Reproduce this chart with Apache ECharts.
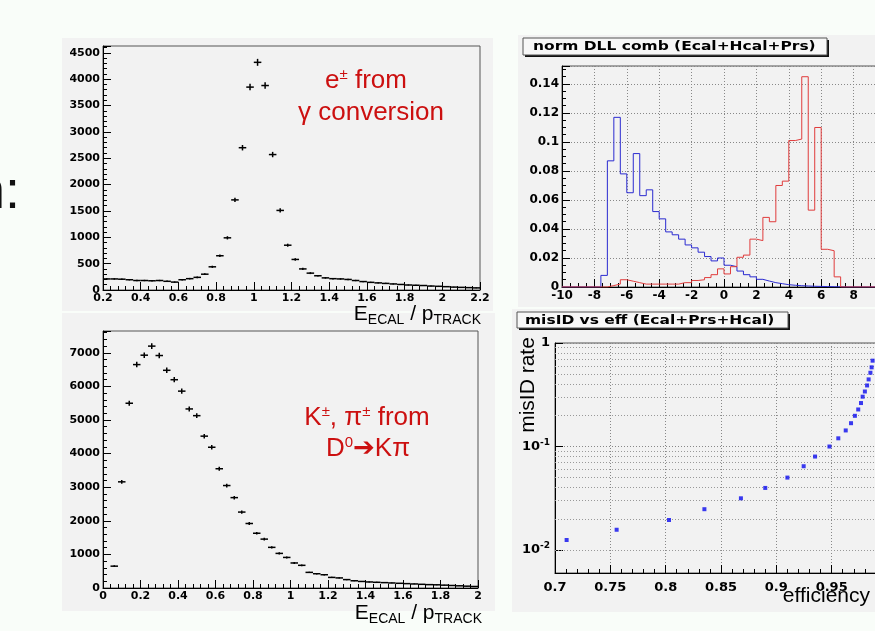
<!DOCTYPE html>
<html>
<head>
<meta charset="utf-8">
<script src="https://cdn.jsdelivr.net/npm/echarts@6/dist/echarts.min.js"></script>
<style>
html, body { margin: 0; padding: 0; background: #f9fdf9; }
#chart { width: 875px; height: 631px; }
</style>
</head>
<body>
<div id="chart"></div>
<script>
// E/p, e± from gamma conversion : 50 bins of 0.04 starting at 0.2
const eBinStart = 0.2;
const epBinW = 0.04;
const eCounts = [210, 210, 205, 195, 180, 180, 175, 180, 165, 150, 195, 215, 240, 300, 440, 650, 990, 1710, 2700, 3850,
  4320, 3880, 2570, 1510, 850, 580, 400, 320, 270, 230, 215, 210, 200, 180, 160, 145, 135, 125, 115, 105,
  95, 90, 85, 75, 70, 63, 55, 50, 45, 40];
const eErrors = [14, 14, 14, 14, 13, 13, 13, 13, 13, 12, 14, 15, 15, 17, 21, 25, 31, 41, 52, 62,
  66, 62, 51, 39, 29, 24, 20, 18, 16, 15, 15, 14, 14, 13, 13, 12, 12, 11, 11, 10,
  10, 9, 9, 9, 8, 8, 7, 7, 7, 6];

// E/p, K± pi± from D0 -> K pi : bins of 0.04 starting at 0.04
const kBinStart = 0.04;
const kCounts = [650, 3160, 5500, 6650, 6930, 7200, 6920, 6480, 6200, 5860, 5330, 5130, 4520, 4190, 3550, 3050, 2690, 2260, 1920, 1630,
  1455, 1210, 1030, 910, 745, 675, 465, 425, 395, 315, 300, 250, 215, 195, 180, 170, 160, 150, 140, 130,
  120, 110, 100, 95, 85, 75, 65, 55, 45];
const kErrors = [25, 56, 74, 82, 83, 85, 83, 80, 79, 77, 73, 72, 67, 65, 60, 55, 52, 48, 44, 40,
  38, 35, 32, 30, 27, 26, 22, 21, 20, 18, 17, 16, 15, 14, 13, 13, 13, 12, 12, 11,
  11, 10, 10, 10, 9, 9, 8, 7, 7];

// norm DLL comb : 50 bins of 0.4 from -10
const dllBinStart = -10;
const dllBinW = 0.4;
const dllBlue = [0, 0, 0, 0, 0, 0, 0.008, 0.087, 0.117, 0.078, 0.065, 0.092, 0.063, 0.067, 0.052, 0.047, 0.038, 0.036, 0.033, 0.029,
  0.027, 0.024, 0.021, 0.018, 0.020, 0.015, 0.014, 0.011, 0.0085, 0.007, 0.0053, 0.0041, 0.003, 0.0023, 0.0016, 0.0012, 0.0009, 0.0007, 0.0005, 0.0004,
  0.0003, 0.0002, 0.0001, 0, 0, 0, 0, 0, 0, 0];
const dllRed = [0, 0, 0, 0, 0, 0, 0, 0.001, 0.002, 0.005, 0.004, 0.003, 0.002, 0.002, 0.002, 0.002, 0.002, 0.002, 0.003, 0.003,
  0.0045, 0.005, 0.0065, 0.0085, 0.0125, 0.009, 0.014, 0.0205, 0.022, 0.033, 0.032, 0.048, 0.045, 0.070, 0.073, 0.101, 0.102, 0.145, 0.053, 0.110,
  0.026, 0.025, 0.007, 0, 0, 0, 0, 0, 0, 0];

// misID vs eff
const effValues = [0.7105, 0.7557, 0.803, 0.835, 0.868, 0.890, 0.910, 0.9247, 0.935, 0.948, 0.956, 0.9627, 0.9675, 0.971, 0.974, 0.9765,
  0.978, 0.980, 0.982, 0.9834, 0.985, 0.9861, 0.987];
const misIdValues = [0.0125, 0.0157, 0.0195, 0.0248, 0.0316, 0.0398, 0.0501, 0.0645, 0.080, 0.100, 0.120, 0.143, 0.168, 0.198, 0.228, 0.263,
  0.303, 0.340, 0.389, 0.445, 0.516, 0.582, 0.675];
// dotted lines of the log grid between decades
const logMinorGrid = [0.007, 0.008, 0.009, 0.02, 0.03, 0.04, 0.05, 0.06, 0.07, 0.08, 0.09,
  0.2, 0.3, 0.4, 0.5, 0.6, 0.7, 0.8, 0.9];

const ROOT_FONT = 'DejaVu Sans';
const SLIDE_FONT = 'Liberation Sans, DejaVu Sans';
const PAD = '#f2f2f2';

// histo rows: [bin centre, count, error]
const eData = eCounts.map((v, i) => [eBinStart + epBinW * (i + 0.5), v, eErrors[i]]);
const kData = kCounts.map((v, i) => [kBinStart + epBinW * (i + 0.5), v, kErrors[i]]);

// step outline: left edge of each bin + closing edge
function stepData(vals) {
  const d = vals.map((v, i) => [dllBinStart + dllBinW * i, v]);
  d.push([dllBinStart + dllBinW * vals.length, vals[vals.length - 1]]);
  return d;
}

// ROOT style cross : horizontal = bin width, vertical = error
function renderCross(params, api) {
  const x = api.value(0), y = api.value(1), err = api.value(2);
  const l = api.coord([x - epBinW / 2, y]);
  const r = api.coord([x + epBinW / 2, y]);
  const t = api.coord([x, y + err]);
  const b = api.coord([x, y - err]);
  const st = { stroke: '#000', lineWidth: 1.5 };
  return {
    type: 'group',
    children: [
      { type: 'line', shape: { x1: l[0], y1: l[1], x2: r[0], y2: r[1] }, style: st },
      { type: 'line', shape: { x1: t[0], y1: t[1], x2: b[0], y2: b[1] }, style: st }
    ]
  };
}

function plainNumber(v) {
  return String(v);
}

function rootAxis(o) {
  return {
    gridIndex: o.grid,
    type: o.type || 'value',
    min: o.min,
    max: o.max,
    interval: o.interval,
    logBase: o.logBase,
    axisLine: { show: true, onZero: false, lineStyle: { color: '#000', width: 1 } },
    axisTick: { show: true, inside: true, length: 8, lineStyle: { color: '#000', width: 1 } },
    minorTick: { show: o.minor !== 0, splitNumber: o.minor || 5, length: 4, lineStyle: { color: '#000', width: 1 } },
    axisLabel: {
      color: '#000', fontFamily: ROOT_FONT, fontWeight: 'bold', fontSize: o.fontSize, margin: o.margin,
      showMaxLabel: o.showMax !== false, showMinLabel: o.showMin !== false,
      formatter: o.formatter || plainNumber, rich: o.rich
    },
    splitLine: {
      show: !!o.grid_lines,
      lineStyle: { color: '#888', width: 1, type: [1, 2] }
    }
  };
}

function frame(left, top, width, height) {
  return { left, top, width, height, show: true, borderColor: '#555', borderWidth: 1, containLabel: false, outerBoundsMode: 'none' };
}

const chart = echarts.init(document.getElementById('chart'));

const option = {
  animation: false,
  backgroundColor: '#f9fdf9',
  grid: [
    frame(103, 46, 377, 244),
    frame(103, 331, 375, 257),
    frame(562, 66, 324, 221),
    frame(555, 343, 332, 230)
  ],
  xAxis: [
    rootAxis({ grid: 0, min: 0.2, max: 2.2, interval: 0.2, fontSize: 11, margin: 3 }),
    rootAxis({ grid: 1, min: 0, max: 2, interval: 0.2, fontSize: 11, margin: 3 }),
    rootAxis({ grid: 2, min: -10, max: 10, interval: 2, minor: 4, fontSize: 12, margin: 3, grid_lines: true }),
    rootAxis({ grid: 3, min: 0.7, max: 1.0, interval: 0.05, fontSize: 13, margin: 8, grid_lines: true })
  ],
  yAxis: [
    rootAxis({ grid: 0, min: 0, max: 4630, interval: 500, fontSize: 11, margin: 3, showMax: false }),
    rootAxis({ grid: 1, min: 0, max: 7650, interval: 1000, fontSize: 11, margin: 3, showMax: false }),
    rootAxis({ grid: 2, min: 0, max: 0.1524, interval: 0.02, minor: 4, fontSize: 12, margin: 3, showMax: false, grid_lines: true }),
    rootAxis({
      grid: 3, type: 'log', logBase: 10, min: 0.006, max: 1, minor: 0, fontSize: 13, margin: 5, showMin: false, grid_lines: true,
      formatter: function (v) {
        const lg = Math.log10(v);
        const e = Math.round(lg);
        if (Math.abs(lg - e) > 1e-6) return '';
        return e === 0 ? '1' : '10{s|' + e + '}';
      },
      rich: { s: { fontSize: 9, fontWeight: 'bold', fontFamily: ROOT_FONT, padding: [0, 0, 8, 0] } }
    })
  ],
  series: [
    {
      type: 'custom', name: 'e from gamma conversion', xAxisIndex: 0, yAxisIndex: 0,
      data: eData, encode: { x: 0, y: 1 }, renderItem: renderCross
    },
    {
      type: 'custom', name: 'K pi from D0', xAxisIndex: 1, yAxisIndex: 1,
      data: kData, encode: { x: 0, y: 1 }, renderItem: renderCross
    },
    {
      type: 'line', name: 'DLL blue', xAxisIndex: 2, yAxisIndex: 2, step: 'end',
      data: stepData(dllBlue), showSymbol: false, symbol: 'none',
      lineStyle: { color: '#2a2ad0', width: 1 }
    },
    {
      type: 'line', name: 'DLL red', xAxisIndex: 2, yAxisIndex: 2, step: 'end',
      data: stepData(dllRed), showSymbol: false, symbol: 'none',
      lineStyle: { color: '#e03c3c', width: 1 }
    },
    {
      type: 'scatter', name: 'misID vs eff', xAxisIndex: 3, yAxisIndex: 3, z: 5,
      data: effValues.map((x, i) => [x, misIdValues[i]]),
      symbol: 'rect', symbolSize: 4,
      itemStyle: { color: '#0a0aee' },
      markLine: {
        silent: true, symbol: ['none', 'none'], label: { show: false }, z: 1,
        lineStyle: { color: '#999', width: 1, type: [1, 2] },
        data: logMinorGrid.map(v => ({ yAxis: v }))
      }
    }
  ],
  graphic: [
    // pads
    { type: 'rect', z: -100, shape: { x: 62, y: 38, width: 431, height: 273 }, style: { fill: PAD } },
    { type: 'rect', z: -100, shape: { x: 62, y: 313, width: 433, height: 298 }, style: { fill: PAD } },
    { type: 'rect', z: -100, shape: { x: 518, y: 35, width: 370, height: 272 }, style: { fill: PAD } },
    { type: 'rect', z: -100, shape: { x: 512, y: 309, width: 376, height: 303 }, style: { fill: PAD } },
    // title boxes
    { type: 'rect', z: 90, shape: { x: 525, y: 40, width: 304, height: 17 }, style: { fill: '#111' } },
    { type: 'rect', z: 91, shape: { x: 523, y: 38, width: 304, height: 17 }, style: { fill: '#f7f7f7', stroke: '#555', lineWidth: 1 } },
    {
      type: 'text', z: 92, x: 533, y: 47, scaleX: 1.19,
      style: { text: 'norm DLL comb (Ecal+Hcal+Prs)', fontFamily: ROOT_FONT, fontWeight: 'bold', fontSize: 13, fill: '#000', align: 'left', verticalAlign: 'middle' }
    },
    { type: 'rect', z: 90, shape: { x: 519, y: 314, width: 271, height: 16 }, style: { fill: '#111' } },
    { type: 'rect', z: 91, shape: { x: 517, y: 312, width: 271, height: 16 }, style: { fill: '#f7f7f7', stroke: '#555', lineWidth: 1 } },
    {
      type: 'text', z: 92, x: 525, y: 320.5, scaleX: 1.19,
      style: { text: 'misID vs eff (Ecal+Prs+Hcal)', fontFamily: ROOT_FONT, fontWeight: 'bold', fontSize: 13, fill: '#000', align: 'left', verticalAlign: 'middle' }
    },
    // axis titles
    {
      type: 'text', z: 95, x: 481, y: 314,
      style: {
        text: '{m|E}{s|ECAL}{m| / p}{s|TRACK}', align: 'right', verticalAlign: 'middle', fill: '#000',
        fontFamily: SLIDE_FONT, fontSize: 21,
        rich: { m: { fontSize: 21, fontFamily: SLIDE_FONT }, s: { fontSize: 14, fontFamily: SLIDE_FONT, padding: [13, 0, 0, 0] } }
      }
    },
    {
      type: 'text', z: 95, x: 482, y: 613,
      style: {
        text: '{m|E}{s|ECAL}{m| / p}{s|TRACK}', align: 'right', verticalAlign: 'middle', fill: '#000',
        fontFamily: SLIDE_FONT, fontSize: 21,
        rich: { m: { fontSize: 21, fontFamily: SLIDE_FONT }, s: { fontSize: 14, fontFamily: SLIDE_FONT, padding: [13, 0, 0, 0] } }
      }
    },
    {
      type: 'text', z: 95, x: 528, y: 385, rotation: Math.PI / 2,
      style: { text: 'misID rate', fontFamily: SLIDE_FONT, fontSize: 21, fill: '#000', align: 'center', verticalAlign: 'middle' }
    },
    {
      type: 'text', z: 95, x: 870, y: 596,
      style: { text: 'efficiency', fontFamily: SLIDE_FONT, fontSize: 21, fill: '#000', align: 'right', verticalAlign: 'middle' }
    },
    // red annotations
    {
      type: 'text', z: 95, x: 366, y: 81,
      style: {
        text: 'e{s|±} from', fontFamily: SLIDE_FONT, fontSize: 26, fill: '#cc1010', align: 'center', verticalAlign: 'middle',
        rich: { s: { fontSize: 15, fontFamily: SLIDE_FONT, fill: '#cc1010', padding: [0, 0, 12, 0] } }
      }
    },
    {
      type: 'text', z: 95, x: 371, y: 113,
      style: { text: 'γ conversion', fontFamily: SLIDE_FONT, fontSize: 26, fill: '#cc1010', align: 'center', verticalAlign: 'middle' }
    },
    {
      type: 'text', z: 95, x: 367, y: 418,
      style: {
        text: 'K{s|±}, π{s|±} from', fontFamily: SLIDE_FONT, fontSize: 26, fill: '#cc1010', align: 'center', verticalAlign: 'middle',
        rich: { s: { fontSize: 15, fontFamily: SLIDE_FONT, fill: '#cc1010', padding: [0, 0, 12, 0] } }
      }
    },
    {
      type: 'text', z: 95, x: 368, y: 449,
      style: {
        text: 'D{s|0}➔Kπ', fontFamily: SLIDE_FONT, fontSize: 26, fill: '#cc1010', align: 'center', verticalAlign: 'middle',
        rich: { s: { fontSize: 15, fontFamily: SLIDE_FONT, fill: '#cc1010', padding: [0, 0, 12, 0] } }
      }
    },
    // cut-off slide text on the left
    {
      type: 'text', z: 95, x: 20, y: 193,
      style: { text: 'n:', fontFamily: SLIDE_FONT, fontSize: 54, fill: '#111', align: 'right', verticalAlign: 'middle' }
    }
  ]
};

chart.setOption(option);
</script>
</body>
</html>
